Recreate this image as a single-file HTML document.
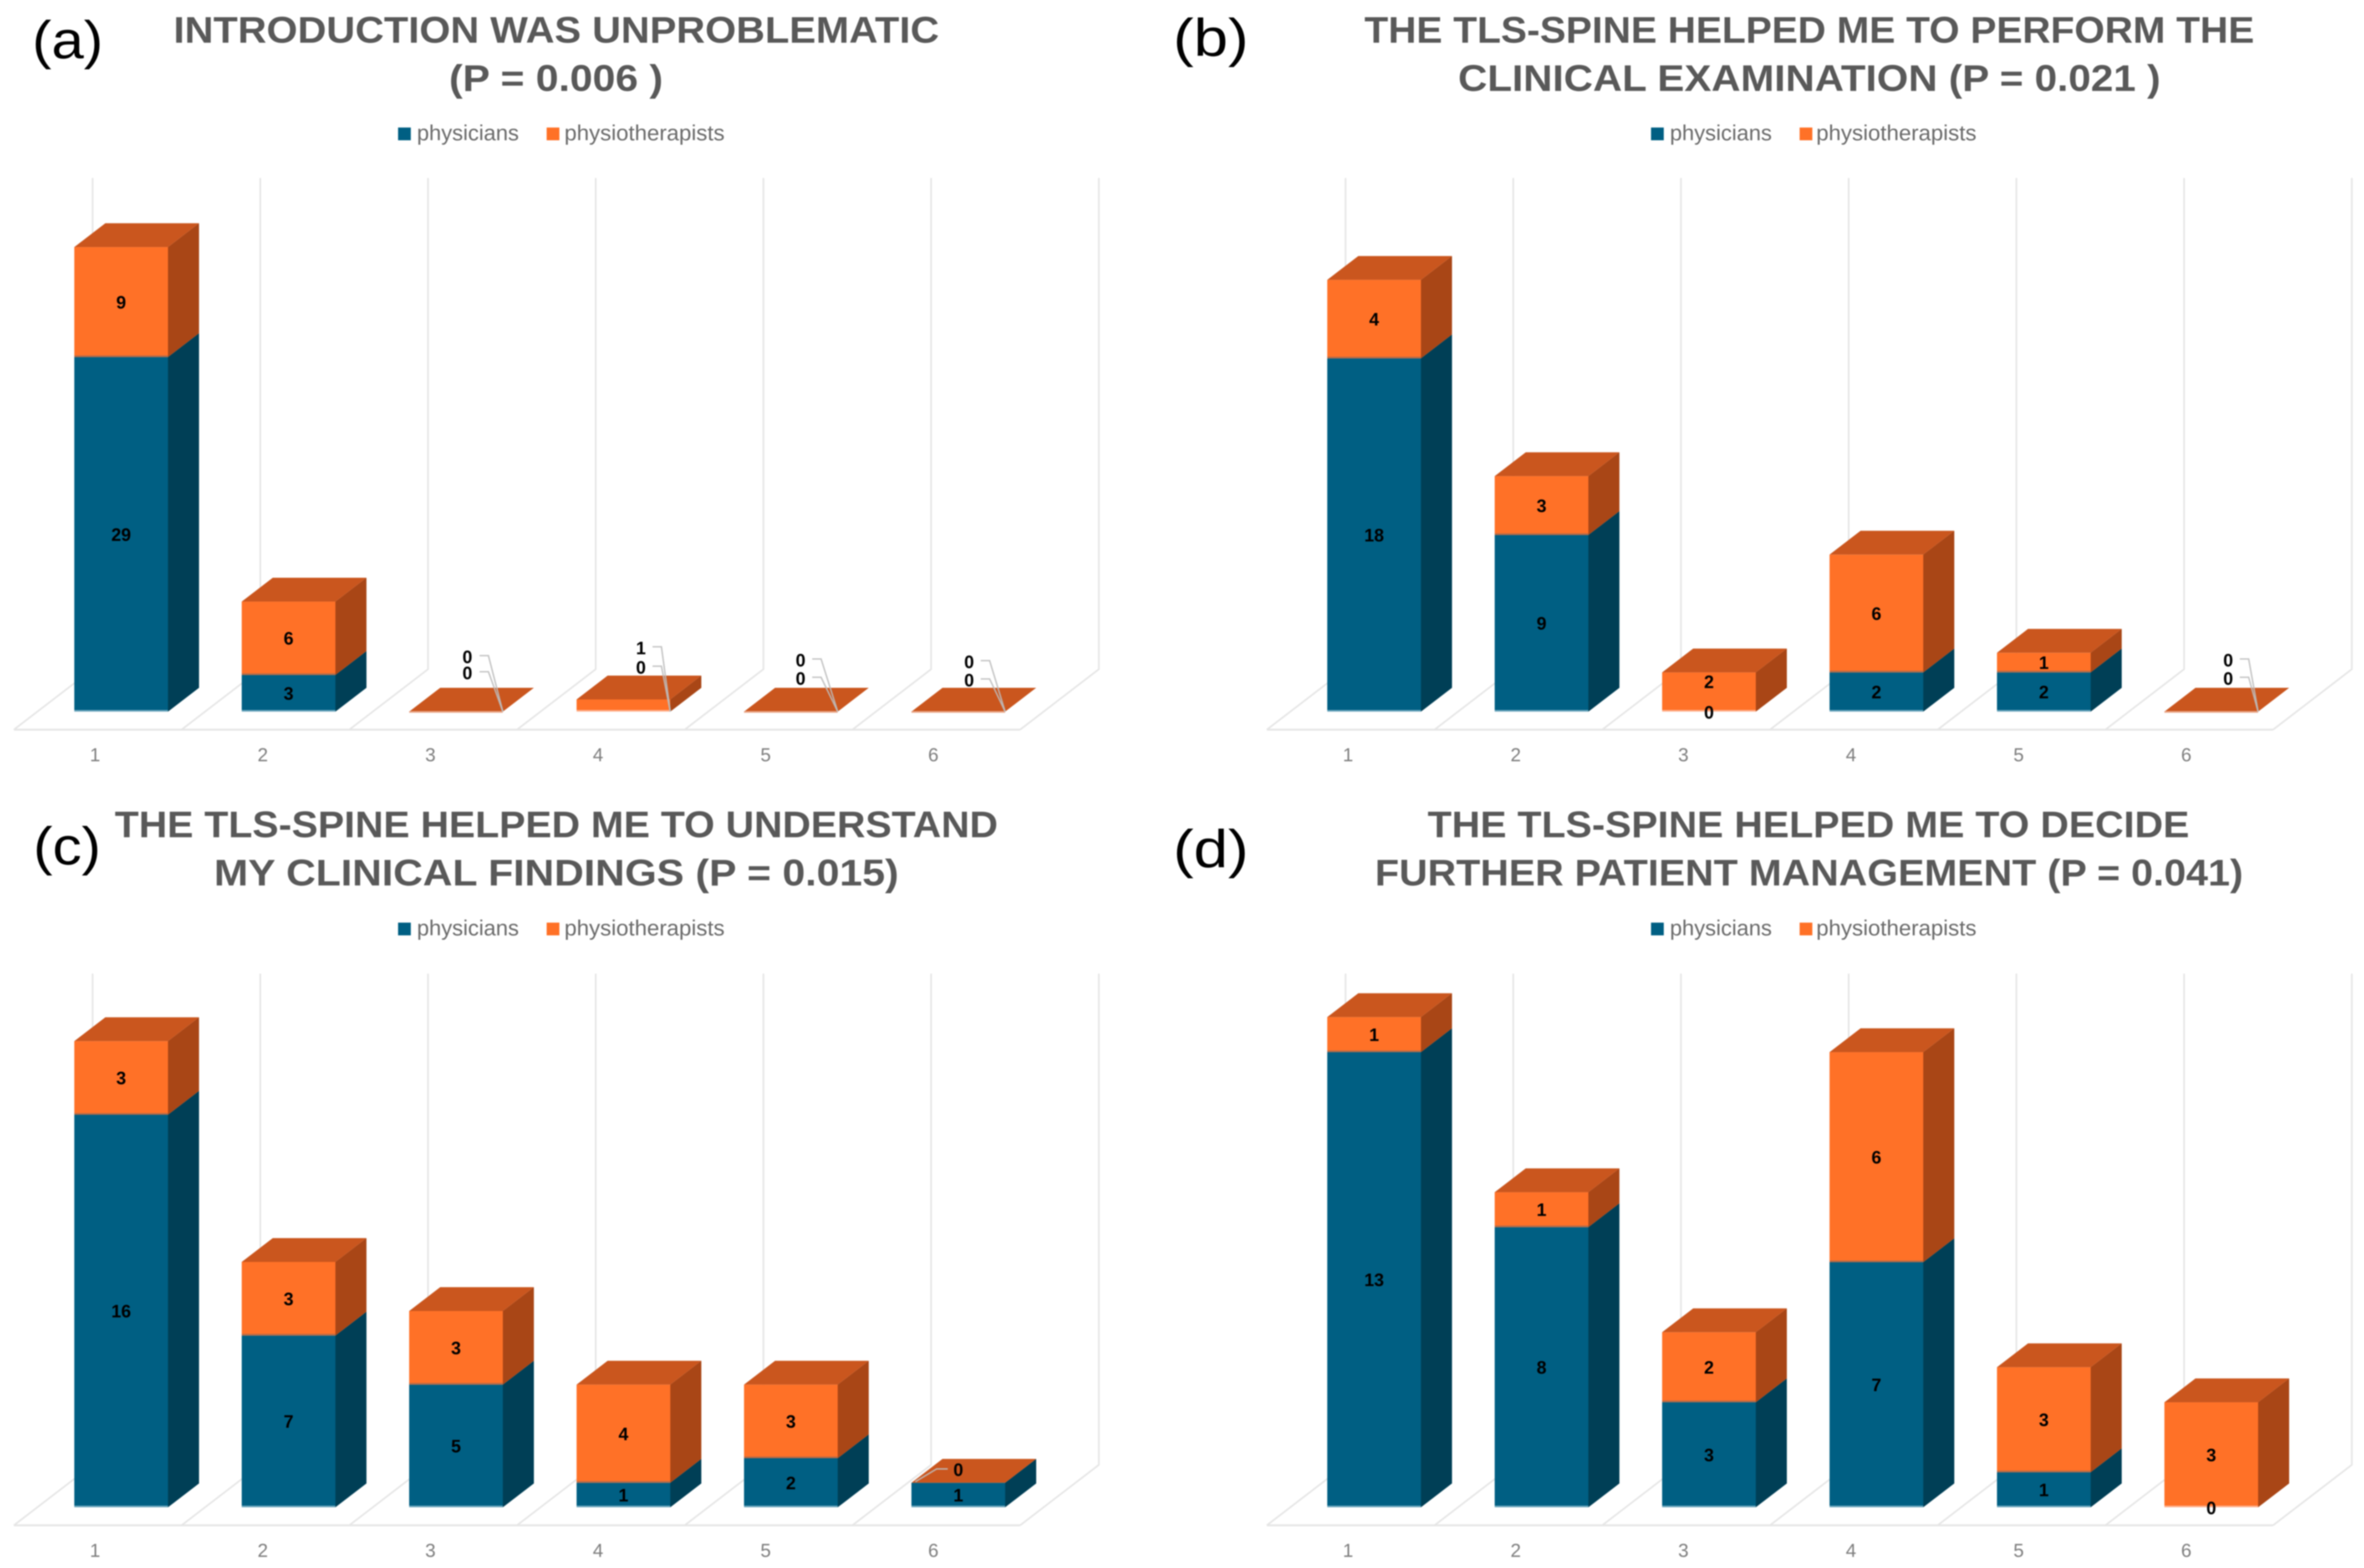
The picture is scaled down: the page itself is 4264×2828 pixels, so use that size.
<!DOCTYPE html>
<html lang="en">
<head>
<meta charset="utf-8">
<title>TLS-spine survey stacked bar charts</title>
<style>
html,body{margin:0;padding:0;background:#fff;width:4264px;height:2828px;overflow:hidden}
svg{display:block;filter:blur(1px)}
text{font-family:"Liberation Sans",sans-serif}
.ttl{font-size:67px;font-weight:700;fill:#595959}
.pl{font-size:96px;fill:#000}
.lg{font-size:39px;fill:#6b6b6b}
.tick{font-size:34px;fill:#7f7f7f;text-anchor:middle}
.val{font-size:32px;font-weight:700;fill:#000;text-anchor:middle}
</style>
</head>
<body>
<svg id="fig" xmlns="http://www.w3.org/2000/svg" width="4264" height="2828" viewBox="0 0 4264 2828">
<rect width="4264" height="2828" fill="#fff"/>

<g>
<text class="pl" x="58" y="105" textLength="128" lengthAdjust="spacingAndGlyphs">(a)</text>
<text class="ttl" x="313" y="77" textLength="1381" lengthAdjust="spacingAndGlyphs">INTRODUCTION WAS UNPROBLEMATIC</text>
<text class="ttl" x="810" y="164" textLength="386" lengthAdjust="spacingAndGlyphs">(P = 0.006 )</text>
<g>
<rect x="718" y="230" width="23" height="23" fill="#005f83"/>
<text class="lg" x="752" y="253" textLength="184" lengthAdjust="spacingAndGlyphs">physicians</text>
<rect x="986" y="230" width="23" height="23" fill="#ff7127"/>
<text class="lg" x="1018" y="253" textLength="289" lengthAdjust="spacingAndGlyphs">physiotherapists</text>
</g>
</g>

<g>
<text class="pl" x="2116" y="101" textLength="136" lengthAdjust="spacingAndGlyphs">(b)</text>
<text class="ttl" x="2461" y="77" textLength="1605" lengthAdjust="spacingAndGlyphs">THE TLS-SPINE HELPED ME TO PERFORM THE</text>
<text class="ttl" x="2630" y="164" textLength="1267" lengthAdjust="spacingAndGlyphs">CLINICAL EXAMINATION (P = 0.021 )</text>
<g>
<rect x="2978" y="230" width="23" height="23" fill="#005f83"/>
<text class="lg" x="3012" y="253" textLength="184" lengthAdjust="spacingAndGlyphs">physicians</text>
<rect x="3246" y="230" width="23" height="23" fill="#ff7127"/>
<text class="lg" x="3276" y="253" textLength="289" lengthAdjust="spacingAndGlyphs">physiotherapists</text>
</g>
</g>

<g>
<text class="pl" x="60" y="1559" textLength="122" lengthAdjust="spacingAndGlyphs">(c)</text>
<text class="ttl" x="207" y="1510" textLength="1593" lengthAdjust="spacingAndGlyphs">THE TLS-SPINE HELPED ME TO UNDERSTAND</text>
<text class="ttl" x="386" y="1597" textLength="1235" lengthAdjust="spacingAndGlyphs">MY CLINICAL FINDINGS (P = 0.015)</text>
<g>
<rect x="718" y="1664" width="23" height="23" fill="#005f83"/>
<text class="lg" x="752" y="1687" textLength="184" lengthAdjust="spacingAndGlyphs">physicians</text>
<rect x="986" y="1664" width="23" height="23" fill="#ff7127"/>
<text class="lg" x="1018" y="1687" textLength="289" lengthAdjust="spacingAndGlyphs">physiotherapists</text>
</g>
</g>

<g>
<text class="pl" x="2116" y="1564" textLength="136" lengthAdjust="spacingAndGlyphs">(d)</text>
<text class="ttl" x="2575" y="1510" textLength="1374" lengthAdjust="spacingAndGlyphs">THE TLS-SPINE HELPED ME TO DECIDE</text>
<text class="ttl" x="2480" y="1597" textLength="1566" lengthAdjust="spacingAndGlyphs">FURTHER PATIENT MANAGEMENT (P = 0.041)</text>
<g>
<rect x="2978" y="1664" width="23" height="23" fill="#005f83"/>
<text class="lg" x="3012" y="1687" textLength="184" lengthAdjust="spacingAndGlyphs">physicians</text>
<rect x="3246" y="1664" width="23" height="23" fill="#ff7127"/>
<text class="lg" x="3276" y="1687" textLength="289" lengthAdjust="spacingAndGlyphs">physiotherapists</text>
</g>
</g>
</svg>

<script>
// Chart data
var categories = ["1", "2", "3", "4", "5", "6"];
var physiciansA = [29, 3, 0, 0, 0, 0];
var physiotherapistsA = [9, 6, 0, 1, 0, 0];
var physiciansB = [18, 9, 0, 2, 2, 0];
var physiotherapistsB = [4, 3, 2, 6, 1, 0];
var physiciansC = [16, 7, 5, 1, 2, 1];
var physiotherapistsC = [3, 3, 3, 4, 3, 0];
var physiciansD = [13, 8, 3, 7, 1, 0];
var physiotherapistsD = [1, 1, 2, 6, 3, 3];

// Layout of each panel: offset on the page and the pixel size of one respondent
var panels = [
  {id: "a", ox: 0,    oy: 0,    unit: 22.05, phys: physiciansA, physio: physiotherapistsA},
  {id: "b", ox: 2260, oy: 0,    unit: 35.4,  phys: physiciansB, physio: physiotherapistsB},
  {id: "c", ox: 0,    oy: 1435, unit: 44.25, phys: physiciansC, physio: physiotherapistsC},
  {id: "d", ox: 2260, oy: 1435, unit: 63.15, phys: physiciansD, physio: physiotherapistsD}
];

var BAR_X0 = 134, BAR_STEP = 302, BAR_W = 169, DX = 56, DY = 43, BASE_Y = 1283.5;
var FLOOR_Y = 1316, FLOOR_BACK_Y = 1207, WALL_TOP = 321, FRONT_X0 = 25, BACK_X0 = 167, GRID_STEP = 302.5;
var TICK_X0 = 171.5, TICK_Y = 1373, TICK_STEP = 302.4;

var COL = {
  blue: "#005f83", blueSide: "#003f56", blueRim: "#6ba6bc",
  orange: "#ff7127", orangeSide: "#a94616", orangeTop: "#ca561e",
  orangeRim: "#ffb08c", seam: "#b56a48"
};

// Placement rules for labels that the chart pulled out of their bars (layout only)
var calloutRules = {
  "a2": {lx: -64, uy: -99,  ly: -70, sx: -42, kx: -26},
  "a3": {lx: -53, uy: -115, ly: -80, sx: -32, kx: -16},
  "a4": {lx: -67, uy: -93,  ly: -60, sx: -46, kx: -30},
  "a5": {lx: -65, uy: -90,  ly: -57, sx: -44, kx: -28},
  "b5": {lx: -54, uy: -93,  ly: -60, sx: -33, kx: -17}
};

var NS = "http://www.w3.org/2000/svg";
var fig = document.getElementById("fig");

function make(tag, attrs, parent) {
  var n = document.createElementNS(NS, tag);
  for (var k in attrs) n.setAttribute(k, attrs[k]);
  parent.appendChild(n);
  return n;
}
function quad(pts) {
  return pts.map(function (p) { return p[0].toFixed(1) + "," + p[1].toFixed(1); }).join(" ");
}
function barX(p, i) { return p.ox + BAR_X0 + i * BAR_STEP; }
function baseY(p) { return p.oy + BASE_Y; }
function valueY(p, v) { return baseY(p) - v * p.unit; }

function drawGrid(p, g) {
  var el, i;
  el = make("line", {x1: p.ox + FRONT_X0, y1: p.oy + FLOOR_Y, x2: p.ox + FRONT_X0 + 6 * GRID_STEP, y2: p.oy + FLOOR_Y, stroke: "#e6e6e6", "stroke-width": 3.5}, g);
  
  
  for (i = 0; i <= 6; i++) {
    var bx = p.ox + BACK_X0 + i * GRID_STEP;
    var fx = p.ox + FRONT_X0 + i * GRID_STEP;
    el = make("polyline", {points: quad([[bx, p.oy + WALL_TOP], [bx, p.oy + FLOOR_BACK_Y], [fx, p.oy + FLOOR_Y]]), fill: "none", stroke: "#e6e6e6", "stroke-width": 3}, g);
    
    
  }
}

function drawTicks(p, g) {
  categories.forEach(function (c, i) {
    var el = make("text", {"class": "tick", x: p.ox + TICK_X0 + i * TICK_STEP, y: p.oy + TICK_Y}, g);
    el.textContent = c;
    
    
  });
}

function drawSegment(g, x, yBottom, yTop, front, side, rim, seriesName) {
  var el;
  el = make("polygon", {points: quad([[x + BAR_W, yBottom], [x + BAR_W + DX, yBottom - DY], [x + BAR_W + DX, yTop - DY], [x + BAR_W, yTop]]), fill: side}, g);
  
  
  el = make("rect", {x: x, y: yTop, width: BAR_W, height: Math.max(0, yBottom - yTop), fill: front}, g);
  
  
  if (yBottom - yTop > 3) {
    el = make("rect", {x: x, y: yBottom - 3, width: BAR_W, height: 3, fill: rim}, g);
    
    
  }
}

function drawBar(p, i, g) {
  var x = barX(p, i), base = baseY(p);
  var a = p.phys[i], b = p.physio[i];
  var y1 = valueY(p, a), y2 = valueY(p, a + b), el;
  if (a > 0) drawSegment(g, x, base, y1, COL.blue, COL.blueSide, COL.blueRim, 'physicians');
  if (b > 0) drawSegment(g, x, y1, y2, COL.orange, COL.orangeSide, a > 0 ? COL.seam : COL.orangeRim, 'physiotherapists');
  el = make("polygon", {points: quad([[x, y2], [x + BAR_W, y2], [x + BAR_W + DX, y2 - DY], [x + DX, y2 - DY]]), fill: COL.orangeTop}, g);
  
  
  if (a === 0 && b === 0) {
    el = make("rect", {x: x, y: base - 1, width: BAR_W, height: 3, fill: "#e9a587"}, g);
    
    
  }
}

function valueText(g, x, centerY, v, name) {
  var el = make("text", {"class": "val", x: x, y: centerY + 11.5}, g);
  el.textContent = String(v);
  
  
}

function leader(g, pts) {
  var el = make("polyline", {points: quad(pts), fill: "none", stroke: "#bdbdbd", "stroke-width": 2.6, opacity: 0.9}, g);
  
  
}

function drawLabels(p, i, g) {
  var x = barX(p, i), base = baseY(p), cx = x + BAR_W / 2, right = x + BAR_W;
  var a = p.phys[i], b = p.physio[i];
  var y1 = valueY(p, a), y2 = valueY(p, a + b);
  var rule = calloutRules[p.id + i];
  if (rule) {
    valueText(g, right + rule.lx, base + rule.uy, b, 'physiotherapists-value-label');
    valueText(g, right + rule.lx, base + rule.ly, a, 'physicians-value-label');
    leader(g, [[right + rule.sx, base + rule.uy - 2], [right + rule.kx, base + rule.uy - 2], [right, base]]);
    leader(g, [[right + rule.sx, base + rule.ly - 2], [right + rule.kx, base + rule.ly - 2], [right, base]]);
    return;
  }
  // physicians segment label (a zero sits on the baseline)
  valueText(g, cx, a > 0 ? (base + y1) / 2 : base + 1, a, 'physicians-value-label');
  // physiotherapists segment label
  if (b > 0) {
    var cy = (y1 + y2) / 2;
    if (a === 0 && (y1 - y2) < 100) cy = y2 + 17;
    valueText(g, cx, cy, b, 'physiotherapists-value-label');
  } else {
    var ly = y2 - 24;
    valueText(g, cx, ly, b, 'physiotherapists-value-label');
    leader(g, [[cx - 19, ly - 1], [cx - 39, ly - 1], [x + 7, y2 - 2]]);
  }
}

panels.forEach(function (p) {
  var chart = make("g", {}, fig);
  
  
  drawGrid(p, chart);
  drawTicks(p, chart);
  var i;
  for (i = 0; i < categories.length; i++) {
    var bar = make("g", {}, chart);
    
    
    drawBar(p, i, bar);
  }
  for (i = 0; i < categories.length; i++) {
    var labels = make("g", {}, chart);
    
    
    drawLabels(p, i, labels);
  }
});
</script>
</body>
</html>
